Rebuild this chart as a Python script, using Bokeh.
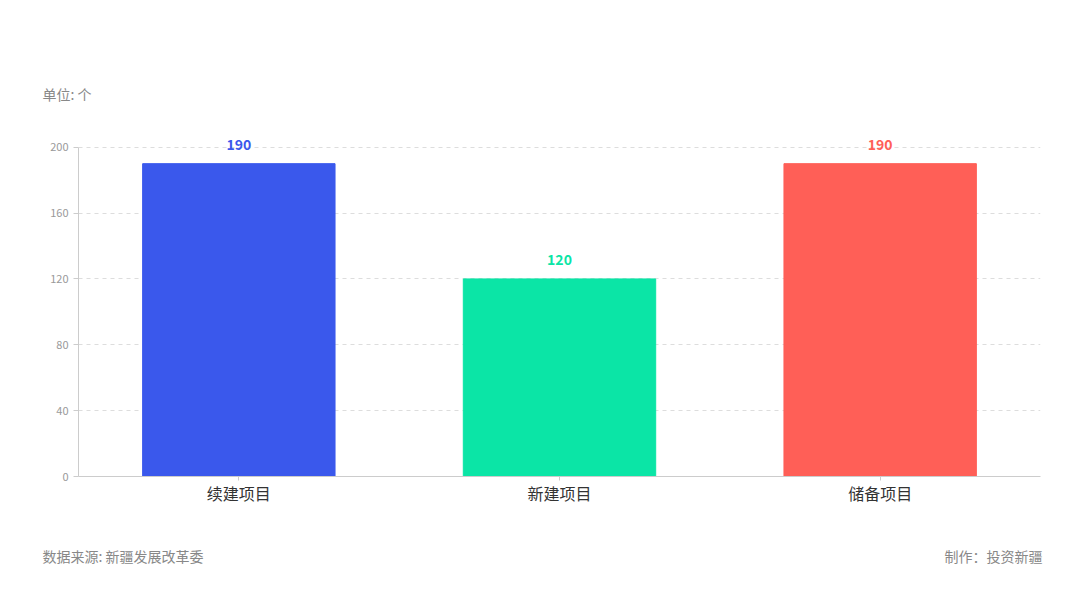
from bokeh.plotting import figure
from bokeh.models import ColumnDataSource, LabelSet, Label, FixedTicker, Range1d, Title
from bokeh.layouts import column
from bokeh.core.properties import value
from bokeh.embed import file_html
from bokeh.resources import INLINE

categories = ["续建项目", "新建项目", "储备项目"]
values = [190, 120, 190]
colors = ["#3A58EC", "#0BE5A6", "#FF5F57"]
y_ticks = [0, 40, 80, 120, 160, 200]

FONT = "Noto Sans CJK SC"
W = 1064

src = ColumnDataSource(dict(cat=categories, val=values, color=colors,
                            txt=[str(v) for v in values]))

p = figure(x_range=categories, y_range=Range1d(0, 215), width=W, height=530,
           output_backend="svg", toolbar_location=None,
           min_border_left=78, min_border_right=24, min_border_top=122, min_border_bottom=54)
p.frame_align = False
p.outline_line_color = None
p.background_fill_color = "white"

p.vbar(x="cat", top="val", width=0.6, color="color", source=src)

labels = LabelSet(x="cat", y="val", text="txt", source=src, text_color="color",
                  text_align="center", text_baseline="bottom", y_offset=14,
                  text_font_size="14px", text_font_style="bold", text_font=value(FONT))
p.add_layout(labels)

p.yaxis.ticker = FixedTicker(ticks=y_ticks)
p.yaxis.bounds = (0, 200)
p.yaxis.axis_line_color = "#cccccc"
p.yaxis.major_tick_line_color = "#cccccc"
p.yaxis.major_tick_in = 0
p.yaxis.major_tick_out = 5
p.yaxis.minor_tick_line_color = None
p.yaxis.major_label_text_color = "#999999"
p.yaxis.major_label_text_font_size = "11px"
p.yaxis.major_label_text_font = FONT

p.xaxis.axis_line_color = "#cccccc"
p.xaxis.major_tick_line_color = "#cccccc"
p.xaxis.major_tick_in = 0
p.xaxis.major_tick_out = 4
p.xaxis.major_label_text_color = "#333333"
p.xaxis.major_label_text_font_size = "16px"
p.xaxis.major_label_text_font = FONT
p.xaxis.major_label_standoff = 0

p.xgrid.grid_line_color = None
p.ygrid.grid_line_color = "#dddddd"
p.ygrid.grid_line_dash = "4 4"

p.add_layout(Title(text="单位: 个", align="left", offset=-36, standoff=37,
                   text_color="#888888", text_font_size="14px", text_font=FONT,
                   text_font_style="normal"), "above")

f = figure(width=W, height=63, output_backend="svg", toolbar_location=None,
           x_range=Range1d(0, W), y_range=Range1d(0, 63),
           min_border=0, min_border_left=0, min_border_right=0,
           min_border_top=0, min_border_bottom=0)
f.frame_align = False
f.axis.visible = False
f.grid.visible = False
f.outline_line_color = None
f.add_layout(Label(x=42, y=38, x_units="screen", y_units="screen",
                   text="数据来源: 新疆发展改革委", text_color="#888888", text_font_size="14px",
                   text_font=FONT, text_baseline="middle"))
f.add_layout(Label(x=1042, y=38, x_units="screen", y_units="screen",
                   text="制作：投资新疆", text_color="#888888", text_font_size="14px",
                   text_font=FONT, text_baseline="middle", text_align="right"))

layout = column(p, f, spacing=0)
open("out.html", "w").write(file_html(layout, INLINE))
